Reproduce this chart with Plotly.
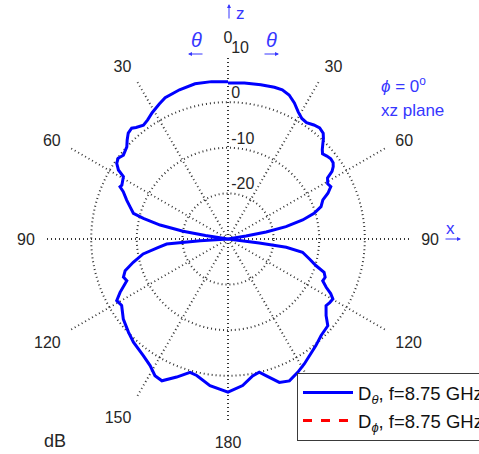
import plotly.graph_objects as go

# Directivity in the xz plane (phi = 0 deg), dB, radial floor at -30 dB.
# theta runs clockwise from +z: 0..180 on the +x side, 180..360 on the -x side.
theta_deg = [
    0, 6, 12, 17, 20, 23, 26, 29, 31.5, 34, 37, 39.5, 42, 43.5, 45, 46.5, 48,
    50, 52, 54, 55.5, 57, 58.5, 61, 63, 65.4, 67.6, 70.8, 73.4, 75.7, 78,
    79.5, 80.5, 81.5, 90, 96, 97.3, 98.1, 100.1, 103.8, 106.9, 109.1, 111.5,
    113.8, 116.2, 118, 119.8, 122, 124.2, 128, 131, 136, 140.5, 145, 148.6,
    152.4, 156.6, 160.3, 164.5, 166.8, 169.8, 174.3, 180,
    187, 192.9, 195.9, 200.4, 205, 208.1, 211.6, 216, 222.5, 226.9, 232.6,
    238, 241, 243.7, 247.6, 250, 252.9, 256.2, 260, 263, 265.3, 266.5, 267.2,
    270, 278.2, 279, 279.7, 281.6, 283.7, 285.2, 288.2, 291, 294.3, 295.8,
    296.9, 300.8, 302.2, 304.2, 306.3, 308.7, 312.3, 314.5, 316.7, 319,
    320.5, 323.4, 326, 329, 333, 336, 342, 348, 354, 360,
]
d_theta_db = [
    4.2, 4.4, 4.6, 4.8, 4.8, 4.3, 3.2, 1.8, 1.0, 0.8, 1.3, 1.6, 1.2, 0.4,
    -0.6, -1.5, -2.1, -1.7, -1.4, -1.5, -2.0, -2.8, -4.4, -5.0, -4.7, -5.9,
    -7.5, -8.4, -10.3, -13.1, -17.0, -21.5, -26.0, -30.0, -30.0, -30.0,
    -23.1, -17.1, -13.4, -11.6, -9.8, -7.7, -7.1, -7.3, -6.0, -4.5, -3.5,
    -3.7, -4.0, -2.7, -1.0, -0.6, 0.3, 1.2, 2.1, 3.0, 3.9, 3.4, 1.1, 0.0,
    0.5, 2.3, 3.6,
    2.4, 0.7, 0.4, 2.3, 4.3, 4.0, 2.6, 1.6, 0.7, -0.1, -1.1, -2.5, -2.1,
    -3.6, -6.0, -5.6, -6.4, -8.6, -11.1, -14.5, -16.5, -23.9, -30.0,
    -30.0, -30.0, -25.0, -20.0, -14.8, -10.9, -8.5, -7.4, -6.2, -4.8, -3.7,
    -3.9, -3.3, -1.6, -0.5, -0.1, -0.6, 0.0, 1.0, 1.9, 2.2, 1.7, 1.1, 1.5,
    2.3, 3.2, 3.9, 4.4, 4.8, 4.7, 4.5, 4.3, 4.2,
]

# Cross-polar component: no level above the -30 dB floor in this cut.
theta_phi_deg = [0, 90, 180, 270, 360]
d_phi_db = [-30, -30, -30, -30, -30]

ring_db = [-20, -10, 0, 10]
ring_labels = ["\u2009-20", "\u2009-10", "\u20090", "\u200910"]
angle_ticks = [0, 30, 60, 90, 120, 150, 180, 210, 240, 270, 300, 330]
angle_labels = ["0", "30", "60", "90", "120", "150", "180",
                "150", "120", "90", "60", "30"]

W, H = 479, 454
BLUE_TXT = "#3636ff"
TXT = "#262626"
FONT = "Liberation Sans, Arial, sans-serif"

fig = go.Figure()

fig.add_trace(go.Scatterpolar(
    r=d_theta_db, theta=theta_deg, mode="lines",
    line=dict(color="#0000ff", width=3),
    name="D<sub><i>θ</i></sub>, f=8.75 GHz",
    legendgroup="a", hoverinfo="skip",
))
fig.add_trace(go.Scatterpolar(
    r=d_phi_db, theta=theta_phi_deg, mode="lines",
    line=dict(color="#ff0000", width=3, dash="dash"),
    name="D<sub><i>ϕ</i></sub>, f=8.75 GHz",
    legendgroup="b", hoverinfo="skip",
))
# radial ring labels
fig.add_trace(go.Scatterpolar(
    r=ring_db, theta=[0] * len(ring_db), mode="text",
    text=ring_labels, textposition="top right",
    textfont=dict(family=FONT, size=16, color=TXT),
    showlegend=False, hoverinfo="skip", cliponaxis=False,
))

grid = dict(gridcolor="#333333", gridwidth=1.5, griddash="1px,3px")

fig.update_layout(
    width=W, height=H,
    margin=dict(l=0, r=0, t=0, b=0, autoexpand=False),
    paper_bgcolor="white",
    font=dict(family=FONT, size=16, color=TXT),
    showlegend=True,
    polar=dict(
        domain=dict(x=[45.5 / W, 410.5 / W], y=[32.5 / H, 397.5 / H]),
        bgcolor="white",
        radialaxis=dict(
            range=[-30, 10.02], tickmode="array", tickvals=ring_db,
            showticklabels=False, ticks="", showline=False, **grid,
        ),
        angularaxis=dict(
            rotation=90, direction="clockwise",
            tickmode="array", tickvals=angle_ticks, ticktext=angle_labels,
            ticks="outside", ticklen=7, tickcolor="rgba(0,0,0,0)",
            showline=False, tickfont=dict(size=16, color=TXT), **grid,
        ),
    ),
    legend=dict(
        x=297 / W, y=(H - 373) / H, xanchor="left", yanchor="top",
        bgcolor="white", bordercolor="#3a3a3a", borderwidth=1,
        font=dict(family=FONT, size=18.5, color="#111"),
        traceorder="grouped", tracegroupgap=1, itemwidth=50,
    ),
)

def note(x, y, text, size=17, color=BLUE_TXT, xanchor="center"):
    fig.add_annotation(
        x=x / W, y=1 - y / H, xref="paper", yref="paper", text=text,
        showarrow=False, xanchor=xanchor, yanchor="middle",
        font=dict(family=FONT, size=size, color=color),
    )

def arrow(x0, y0, x1, y1):
    fig.add_annotation(
        x=x1 / W, y=1 - y1 / H, xref="paper", yref="paper",
        ax=x0 - x1, ay=y0 - y1, axref="pixel", ayref="pixel",
        text="", showarrow=True, arrowhead=2, arrowsize=0.8,
        arrowwidth=1, arrowcolor=BLUE_TXT,
    )

arrow(229, 20, 229, 4)
note(240, 13, "z")
note(196, 40, "<i>θ</i>", size=20)
arrow(204, 54, 188, 54)
note(271, 40, "<i>θ</i>", size=20)
arrow(263, 54, 279, 54)
note(379, 85, "<i>ϕ</i> = 0<sup>o</sup>", xanchor="left")
note(379, 110, "xz plane", xanchor="left")
note(450, 228, "x")
arrow(444, 239, 461, 239)
note(55, 441, "dB", size=18, color=TXT)

fig.write_html("out.html")
